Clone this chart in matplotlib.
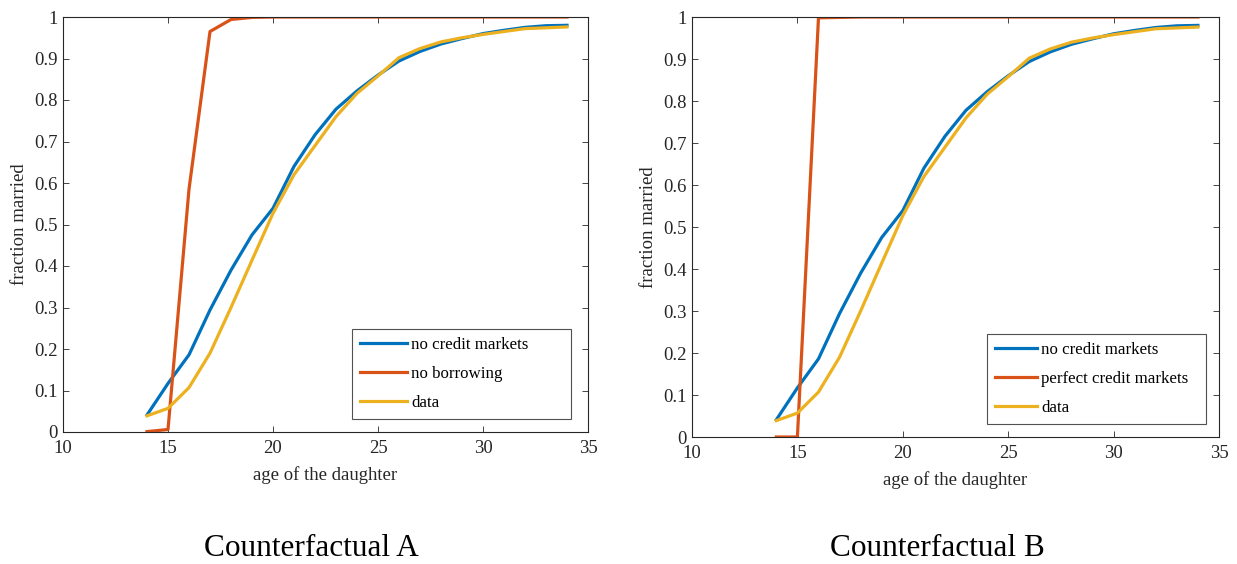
import matplotlib
matplotlib.use("Agg")
import matplotlib.pyplot as plt
from matplotlib.ticker import FuncFormatter

ages = list(range(14, 35))
no_credit = [0.041, 0.117, 0.186, 0.294, 0.39, 0.475, 0.539, 0.64, 0.716, 0.778, 0.822,
             0.86, 0.894, 0.917, 0.935, 0.948, 0.96, 0.968, 0.975, 0.979, 0.98]
data_obs = [0.039, 0.057, 0.107, 0.19, 0.30, 0.414, 0.527, 0.62, 0.69, 0.76, 0.816,
            0.858, 0.902, 0.924, 0.94, 0.95, 0.958, 0.965, 0.972, 0.974, 0.976]
no_borrow = [0.001, 0.006, 0.585, 0.965, 0.994, 0.999, 1.0, 1.0, 1.0, 1.0, 1.0,
             1.0, 1.0, 1.0, 1.0, 1.0, 1.0, 1.0, 1.0, 1.0, 1.0]
perfect = [0.0, 0.0, 0.998, 0.999, 1.0, 1.0, 1.0, 1.0, 1.0, 1.0, 1.0,
           1.0, 1.0, 1.0, 1.0, 1.0, 1.0, 1.0, 1.0, 1.0, 1.0]

xticks = [10, 15, 20, 25, 30, 35]
yticks = [0, 0.1, 0.2, 0.3, 0.4, 0.5, 0.6, 0.7, 0.8, 0.9, 1]
captions = ["Counterfactual A", "Counterfactual B"]
labels_a = ["no credit markets", "no borrowing", "data"]
labels_b = ["no credit markets", "perfect credit markets", "data"]

plt.rcParams['font.family'] = ['Liberation Serif', 'DejaVu Serif']
C_BLUE, C_RED, C_YEL = "#0072BD", "#D95319", "#EDB120"

W, H = 1237, 564
fig = plt.figure(figsize=(W / 100, H / 100), dpi=100)

def fmt(v, pos):
    if abs(v) < 1e-9:
        return "0"
    if abs(v - 1) < 1e-9:
        return "1"
    return f"{v:.1f}"

def make(rect, cf, labels, legrect, caption, caption_x, hlen):
    ax = fig.add_axes([rect[0] / W, 1 - (rect[1] + rect[3]) / H, rect[2] / W, rect[3] / H])
    l1, = ax.plot(ages, no_credit, color=C_BLUE, lw=2.3, label=labels[0])
    l2, = ax.plot(ages, cf, color=C_RED, lw=2.3, label=labels[1])
    l3, = ax.plot(ages, data_obs, color=C_YEL, lw=2.3, label=labels[2])
    ax.set_xlim(10, 35)
    ax.set_ylim(0, 1)
    ax.set_xticks(xticks)
    ax.set_yticks(yticks)
    ax.yaxis.set_major_formatter(FuncFormatter(fmt))
    ax.tick_params(direction="in", top=True, right=True, labelsize=13.5, colors="#262626",
                   length=4, width=0.6)
    ax.tick_params(axis="x", pad=6)
    ax.tick_params(axis="y", pad=4)
    for s in ax.spines.values():
        s.set_color("#262626")
        s.set_linewidth(0.8)
    ax.set_xlabel("age of the daughter", fontsize=13.5, color="#262626", labelpad=6)
    ax.set_ylabel("fraction married", fontsize=13.5, color="#262626", labelpad=4)
    leg = ax.legend(handles=[l1, l2, l3], loc="lower left",
                    bbox_to_anchor=((legrect[0] - rect[0]) / rect[2],
                                    (rect[1] + rect[3] - legrect[1] - legrect[3]) / rect[3],
                                    legrect[2] / rect[2], legrect[3] / rect[3]),
                    mode="expand", fontsize=12.2, frameon=True, fancybox=False,
                    handlelength=hlen, handletextpad=0.25, borderaxespad=0,
                    labelspacing=0.78, borderpad=0.45)
    leg.get_frame().set_edgecolor("#262626")
    leg.get_frame().set_linewidth(0.8)
    fig.text(caption_x / W, 1 - 549 / H, caption, ha="center", va="center",
             fontsize=22.5, color="black")
    return ax

make((63, 17, 525, 415), no_borrow, labels_a, (352, 328, 219, 91), captions[0], 311, 2.8)
make((692, 17, 527, 420), perfect, labels_b, (987, 330, 219, 94), captions[1], 937, 2.5)

fig.savefig("out.png", dpi=100)
